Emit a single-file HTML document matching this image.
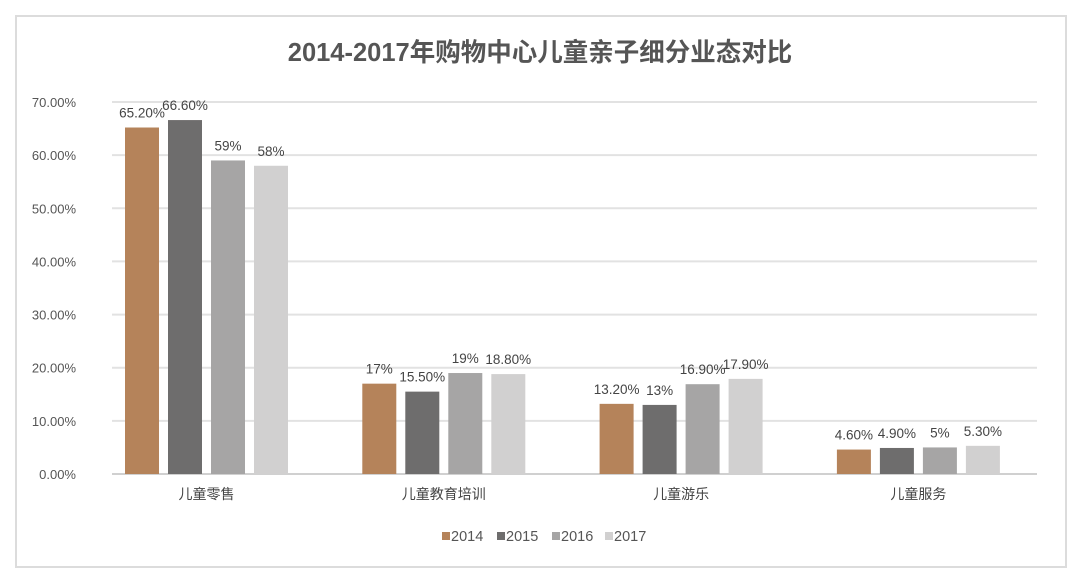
<!DOCTYPE html>
<html><head><meta charset="utf-8"><style>
body{margin:0;background:#fff;}
svg{display:block;font-family:"Liberation Sans","Noto Sans CJK SC",sans-serif;}
</style></head><body>
<svg width="1080" height="579" viewBox="0 0 1080 579">
<rect x="16" y="16" width="1050" height="551" fill="#fff" stroke="#dcdcdc" stroke-width="2"/>
<text x="540" y="61" text-anchor="middle" font-size="25.5" font-weight="bold" fill="#555">2014-2017年购物中心儿童亲子细分业态对比</text>
<g id="grid"></g><g id="bars"></g><g id="labels"></g>
<g id="legend"></g>
</svg>
<script>
const categories=["儿童零售","儿童教育培训","儿童游乐","儿童服务"];
const years=["2014","2015","2016","2017"];
const v2014=[65.2,17,13.2,4.6];
const v2015=[66.6,15.5,13,4.9];
const v2016=[59,19,16.9,5];
const v2017=[58,18.8,17.9,5.3];
const labels2014=["65.20%","17%","13.20%","4.60%"];
const labels2015=["66.60%","15.50%","13%","4.90%"];
const labels2016=["59%","19%","16.90%","5%"];
const labels2017=["58%","18.80%","17.90%","5.30%"];
const ticks=[0,10,20,30,40,50,60,70];
const colors=["#b5835a","#6e6d6d","#a6a5a5","#d1d0d0"];
const NS="http://www.w3.org/2000/svg";
const x0=112,x1=1037,y0=474,yTop=102;
const y=v=>y0-(v/70)*(y0-yTop);
const gx=i=>206.5+237.3*i;
function mk(t,a,p){const e=document.createElementNS(NS,t);for(const k in a)e.setAttribute(k,a[k]);p.appendChild(e);return e;}
const grid=document.getElementById('grid');
ticks.forEach(t=>{
 const l=mk('line',{x1:x0,x2:x1,y1:y(t),y2:y(t),stroke:t===0?'#d0d0d0':'#e2e2e2','stroke-width':2},grid);
 
 
 const tx=mk('text',{x:76,y:y(t)+5,'text-anchor':'end','font-size':13,fill:'#555'},grid);
 tx.textContent=t.toFixed(2)+'%';
 
 
});
const series=[v2014,v2015,v2016,v2017],lbls=[labels2014,labels2015,labels2016,labels2017];
const bars=document.getElementById('bars'),lab=document.getElementById('labels');
categories.forEach((c,i)=>{
 series.forEach((s,j)=>{
  const bx=gx(i)-81.5+j*43;
  const r=mk('rect',{x:bx,y:y(s[i]),width:34,height:y0-y(s[i]),fill:colors[j]},bars);
  
  
  const t=mk('text',{x:bx+17,y:y(s[i])-10,'text-anchor':'middle','font-size':13.5,fill:'#444'},lab);
  t.textContent=lbls[j][i];
  
  
 });
 const ct=mk('text',{x:gx(i),y:499,'text-anchor':'middle','font-size':14,fill:'#444'},lab);
 ct.textContent=c;
 
 
});
const lg=document.getElementById('legend');
const lx=[442,497,552,605];
years.forEach((yr,j)=>{
 const g=mk('g',{},lg);
 
 
 mk('rect',{x:lx[j],y:532,width:8,height:8,fill:colors[j]},g);
 const t=mk('text',{x:lx[j]+9,y:541,'font-size':14.5,fill:'#555'},g);
 t.textContent=yr;
});
</script>
</body></html>
